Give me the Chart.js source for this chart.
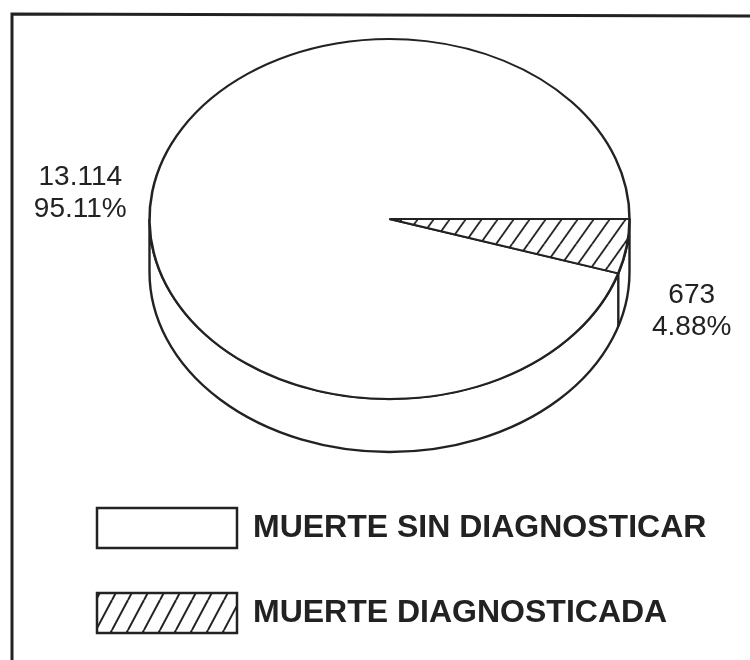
<!DOCTYPE html>
<html>
<head>
<meta charset="utf-8">
<script src="https://cdn.jsdelivr.net/npm/chart.js@4.4.0/dist/chart.umd.min.js"></script>
<style>
  html, body { margin: 0; background: #fff; }
</style>
</head>
<body>
<canvas id="chart" width="750" height="660"></canvas>
<script>
// ====== Datos ======
const categories = ["MUERTE SIN DIAGNOSTICAR", "MUERTE DIAGNOSTICADA"];
const deaths = [13114, 673];
const countLabels = ["13.114", "673"];
const percentLabels = ["95.11%", "4.88%"];

// ====== Aspecto 3D ======
const TOP_Y = 219;     // centro de la cara superior
const TILT = 0.75;     // aplastamiento vertical
const DEPTH = 53;      // alto del borde
const INK = "#222";

// trama diagonal para la porción diagnosticada
function makeHatch() {
  const w = 16, h = 30;
  const c = document.createElement("canvas");
  c.width = w; c.height = h;
  const g = c.getContext("2d");
  g.fillStyle = "#fff";
  g.fillRect(0, 0, w, h);
  g.strokeStyle = INK;
  g.lineWidth = 2;
  [-w, 0, w].forEach(dx => {
    g.beginPath();
    g.moveTo(dx, h);
    g.lineTo(dx + w, 0);
    g.stroke();
  });
  return g.createPattern(c, "repeat");
}
const hatch = makeHatch();

// ====== Marco ======
const framePlugin = {
  id: "frame",
  beforeDraw(chart) {
    const ctx = chart.ctx;
    ctx.save();
    ctx.strokeStyle = INK;
    ctx.lineWidth = 3;
    ctx.beginPath();
    ctx.moveTo(12, 660);
    ctx.lineTo(12, 14);
    ctx.lineTo(750, 16);
    ctx.stroke();
    ctx.restore();
  }
};

// ====== Pastel en perspectiva ======
const tiltPlugin = {
  id: "tilt",
  beforeDatasetsDraw(chart) {
    const ctx = chart.ctx;
    const arcs = chart.getDatasetMeta(0).data;
    const a0 = arcs[0];
    const cx = a0.x, cy = a0.y, r = a0.outerRadius;

    // borde frontal (cilindro)
    ctx.save();
    ctx.strokeStyle = INK;
    ctx.lineWidth = 2.4;
    ctx.fillStyle = "#fff";
    ctx.beginPath();
    ctx.ellipse(cx, TOP_Y, r, r * TILT, 0, 0, Math.PI);
    ctx.ellipse(cx, TOP_Y + DEPTH, r, r * TILT, 0, Math.PI, 0, true);
    ctx.closePath();
    ctx.fill();
    ctx.stroke();
    // aristas de las porciones sobre el borde
    arcs.forEach(arc => {
      let a = arc.startAngle % (2 * Math.PI);
      if (a < 0) a += 2 * Math.PI;
      if (a > 0.01 && a < Math.PI - 0.01) {
        const x = cx + r * Math.cos(a);
        const y = TOP_Y + r * TILT * Math.sin(a);
        ctx.beginPath();
        ctx.moveTo(x, y);
        ctx.lineTo(x, y + DEPTH);
        ctx.stroke();
      }
    });
    ctx.restore();

    // aplastar la cara superior
    ctx.save();
    ctx.translate(cx, TOP_Y);
    ctx.scale(1, TILT);
    ctx.translate(-cx, -cy);
  },
  afterDatasetsDraw(chart) {
    const ctx = chart.ctx;
    ctx.restore();

    // etiquetas de valores
    const arcs = chart.getDatasetMeta(0).data;
    ctx.save();
    ctx.fillStyle = INK;
    ctx.font = "28px 'Liberation Sans', Arial, sans-serif";
    ctx.textAlign = "center";
    ctx.textBaseline = "alphabetic";
    arcs.forEach((arc, i) => {
      const mid = (arc.startAngle + arc.endAngle) / 2;
      const px = arc.x + arc.outerRadius * Math.cos(mid);
      const py = TOP_Y + arc.outerRadius * TILT * Math.sin(mid);
      const right = Math.cos(mid) > 0;
      const x = right ? px + 65 : px - 72;
      const y = right ? py + 57 : py - 7;
      ctx.fillText(countLabels[i], x, y);
      ctx.fillText(percentLabels[i], x, y + 32);
    });
    ctx.restore();
  }
};

const total = deaths.reduce((s, v) => s + v, 0);

new Chart(document.getElementById("chart"), {
  type: "pie",
  data: {
    labels: categories,
    datasets: [{
      data: deaths,
      backgroundColor: ["#fff", hatch],
      borderColor: INK,
      borderWidth: 2.5,
      radius: 240,
      clip: false
    }]
  },
  options: {
    responsive: false,
    animation: false,
    rotation: 90 + 360 * deaths[1] / total,
    layout: { padding: { left: 52, right: 23, top: 10, bottom: 17 } },
    plugins: {
      tooltip: { enabled: false },
      legend: {
        position: "bottom",
        align: "start",
        labels: {
          boxWidth: 140,
          boxHeight: 40,
          padding: 45,
          color: INK,
          font: { family: "'Liberation Sans', Arial, sans-serif", size: 32, weight: "bold" }
        }
      }
    }
  },
  plugins: [framePlugin, tiltPlugin]
});
</script>
</body>
</html>
